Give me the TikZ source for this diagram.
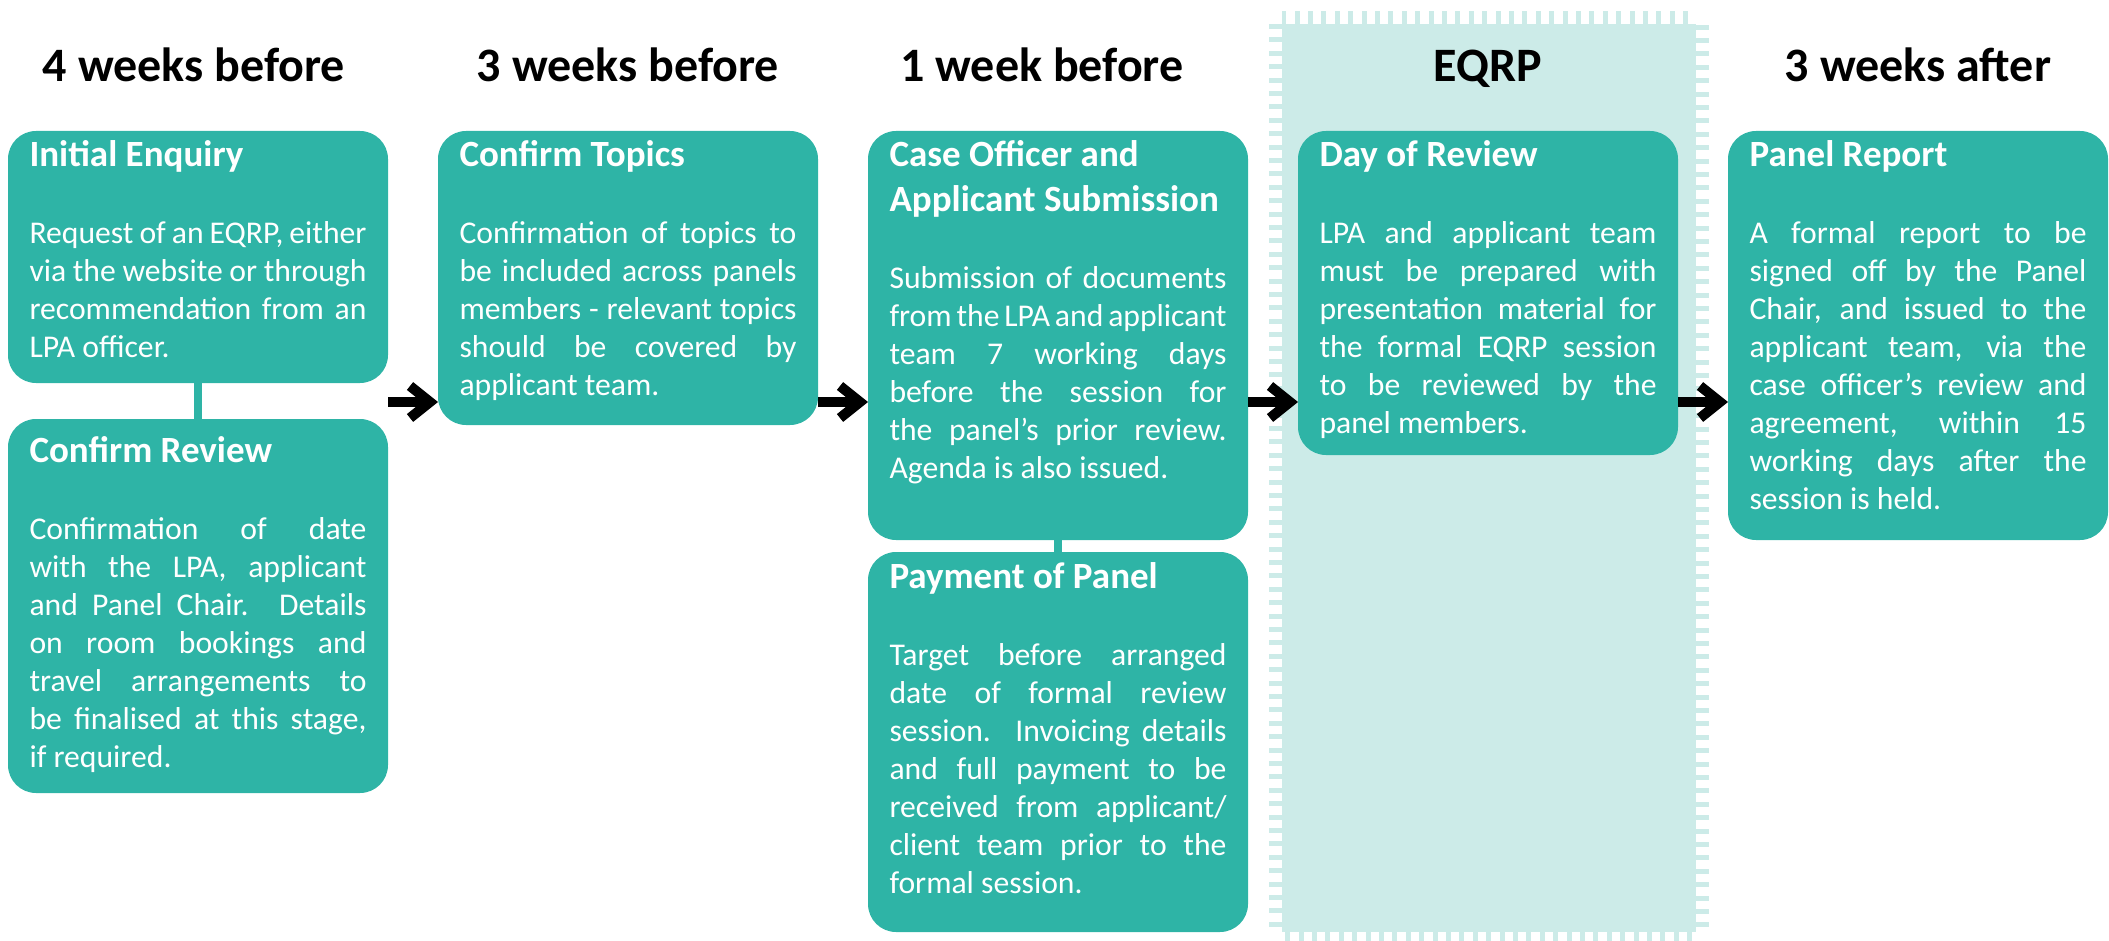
\documentclass[tikz,border=0pt]{standalone}
\usepackage{fontspec}
\setmainfont{Carlito}
\usepackage{tikz}
\usetikzlibrary{arrows.meta,calc,positioning,backgrounds}

\definecolor{stagefill}{RGB}{46,180,166}
\definecolor{bandfill}{RGB}{204,235,232}

\newcommand{\bodyfont}{\fontsize{23.75pt}{28.5pt}\selectfont\hyphenpenalty=10000\exhyphenpenalty=10000}
\newcommand{\titlefont}{\fontsize{27.75pt}{33.75pt}\selectfont\bfseries}
\newcommand{\headfont}{\fontsize{36pt}{42pt}\selectfont\bfseries}
\newcommand{\stagetext}[2]{\bodyfont{\raggedright\titlefont #1\par}\vspace{29.25pt}#2\par}

\tikzset{%
	stage/.style   = {fill=stagefill, text=white, rounded corners=21pt, text width=252.75pt, inner xsep=16.125pt, inner ysep=0pt, outer sep=0pt, align=justify, text height=27pt},
	heading/.style = {font=\headfont, inner sep=0pt},
	link/.style    = {draw=stagefill, line width=6pt},
	flow/.style    = {line width=7.5pt, -{Straight Barb[length=15pt,width=24pt,line width=7.5pt]}},
	band/.style    = {fill=bandfill, draw=bandfill, line width=19.5pt, dash pattern=on 3.75pt off 6.3pt},
}

\begin{document}
\begin{tikzpicture}
		\useasboundingbox (0,0) rectangle (1581.75pt,-705.75pt);
		
		% stages
		\node [stage, anchor=north west, text depth=162pt] (ie) at (6pt,-98.25pt) {\stagetext{Initial Enquiry}{Request of an EQRP, either via the website or through recommendation from an LPA officer.}};
		\node [stage, below=27pt of ie, text height=32.25pt, text depth=248.25pt] (cr) {\stagetext{Confirm Review}{Confirmation of date with the LPA, applicant and Panel Chair. Details on room bookings and travel arrangements to\linebreak be finalised at this stage,\linebreak if required.}};
		\node [stage, right=37.5pt of ie.north east, anchor=north west, text depth=193.5pt] (ct) {\stagetext{Confirm Topics}{Confirmation of topics to be included across panels members - relevant topics should be covered by applicant team.}};
		\node [stage, right=37.5pt of ct.north east, anchor=north west, text depth=279.75pt] (co) {\stagetext{Case Officer and\\Applicant Submission}{Submission of documents from the LPA and applicant team 7 working days before the session for the panel’s prior review. Agenda is also issued.}};
		\node [stage, below=9pt of co, text depth=258pt] (pp) {\stagetext{Payment of Panel}{Target before arranged date of formal review session. Invoicing details and full payment to be received from applicant/\allowbreak{}client team prior to the formal session.}};
		\node [stage, right=37.5pt of co.north east, anchor=north west, text depth=216pt] (dr) {\stagetext{Day of Review}{LPA and applicant team must be prepared with presentation material for the formal EQRP session\linebreak to be reviewed by the\linebreak panel members.}};
		\node [stage, right=37.5pt of dr.north east, anchor=north west, text depth=279.75pt] (pr) {\stagetext{Panel Report}{A formal report to be signed off by the Panel Chair, and issued to the applicant team, via the case officer’s review and agreement, within 15 working days after the session is held.}};
		
		% headings
		\node [heading, above=36.75pt of ie.north, anchor=base, xshift=-3pt] (h1) {4 weeks before};
		\node [heading, above=36.75pt of ct.north, anchor=base] (h2) {3 weeks before};
		\node [heading, above=36.75pt of co.north, anchor=base, xshift=-12pt] (h3) {1 week before};
		\node [heading, above=36.75pt of dr.north, anchor=base] (h4) {EQRP};
		\node [heading, above=36.75pt of pr.north, anchor=base] (h5) {3 weeks after};
		
		\coordinate [below=203.25pt of ie.north] (ay);
		\draw[link] (ie) -- (cr);
		\draw[link] (co) -- (pp);
		\draw[flow] (ie.east |- ay) -- (ct.west |- ay);
		\draw[flow] (ct.east |- ay) -- (co.west |- ay);
		\draw[flow] (co.east |- ay) -- (dr.west |- ay);
		\draw[flow] (dr.east |- ay) -- (pr.west |- ay);
		
		\begin{scope}[on background layer]
		\draw[band] ($(dr.north west)+(-12pt,80.25pt)$) rectangle ($(dr.east |- pp.south)+(13.5pt,0)$);
		\end{scope}
		\end{tikzpicture}
\end{document}
